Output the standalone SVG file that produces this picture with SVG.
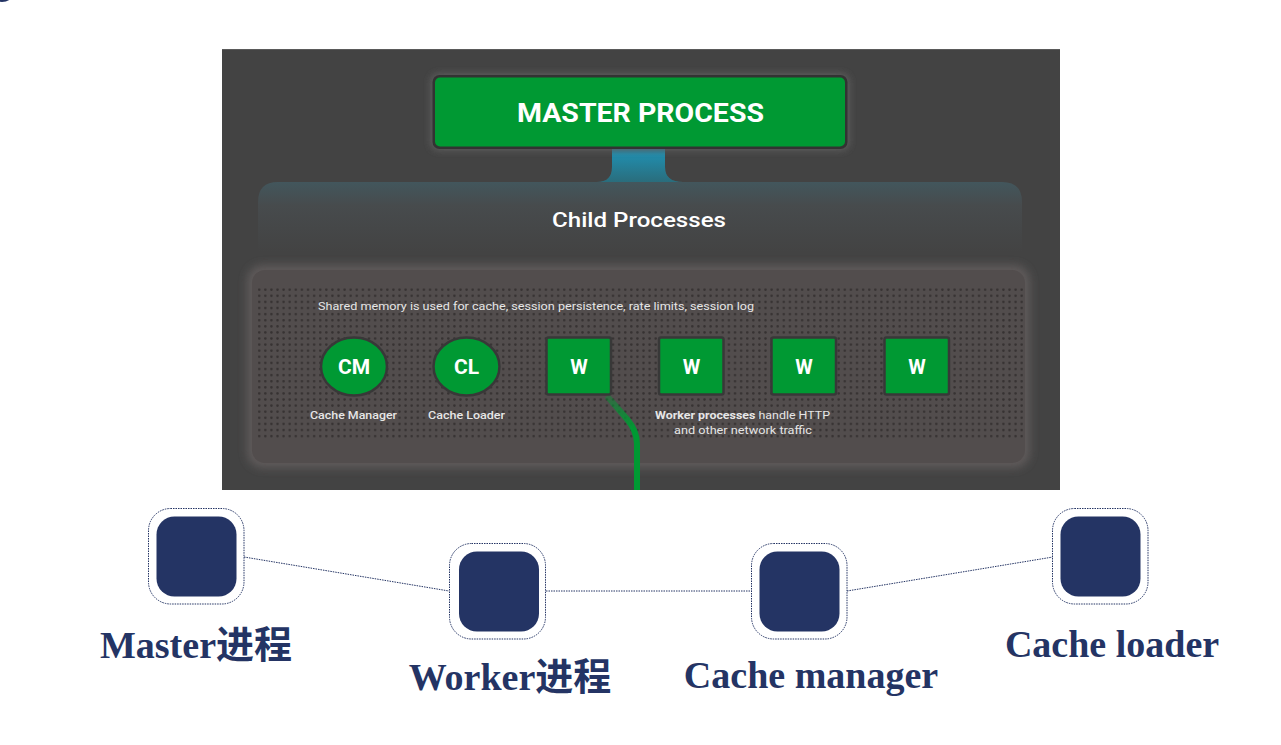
<svg xmlns="http://www.w3.org/2000/svg" width="1281" height="745" viewBox="0 0 1281 745">
<style>
.rb{font-family:Roboto,"Liberation Sans",sans-serif;fill:#fff}
.lbl{font-family:"Liberation Serif","Noto Sans CJK SC",serif;font-weight:bold;font-size:38px;fill:#243464}
.small{font-family:Roboto,"Liberation Sans",sans-serif;font-size:11.5px;fill:#e6e6e6}
.wbox{fill:#009933;stroke:#383838;stroke-width:2.5}
.outer{fill:#fff;stroke:#243464;stroke-width:1;stroke-dasharray:1.5 1}
.inner{fill:#243464}
.conn{stroke:#243464;stroke-width:1;stroke-dasharray:1.5 1;fill:none}
</style>
<defs>
<linearGradient id="band" x1="0" y1="0" x2="0" y2="1">
<stop offset="0" stop-color="#3c6672"/>
<stop offset="0.55" stop-color="#474b4d"/>
<stop offset="1" stop-color="#434343"/>
</linearGradient>
<linearGradient id="stem" x1="0" y1="0" x2="0" y2="1">
<stop offset="0" stop-color="#1f93b6"/>
<stop offset="1" stop-color="#2a6d7c"/>
</linearGradient>
<linearGradient id="wline" x1="0" y1="0" x2="0" y2="1">
<stop offset="0" stop-color="#009933" stop-opacity="0.35"/>
<stop offset="0.35" stop-color="#009933" stop-opacity="1"/>
<stop offset="1" stop-color="#009933"/>
</linearGradient>
<pattern id="dots" width="6.1" height="6.1" patternUnits="userSpaceOnUse">
<circle cx="3" cy="3" r="1.25" fill="#363232"/>
</pattern>
<filter id="blur" x="-10%" y="-10%" width="120%" height="120%"><feGaussianBlur stdDeviation="4"/></filter>
<filter id="blur2" x="-10%" y="-30%" width="120%" height="160%"><feGaussianBlur stdDeviation="3"/></filter>
</defs>
<rect width="1281" height="745" fill="#fff"/>
<ellipse cx="2" cy="-8" rx="12" ry="10" fill="#243464"/>

<g id="screenshot">
<rect x="222" y="49" width="838" height="441" fill="#434343"/>
<rect x="222" y="49" width="838" height="1" fill="#5a5a5a"/>
</g>

<g id="child-band">
<path d="M258 202 Q258 182 278 182 L597 182 Q612 182 612 167 L612 149 L665 149 L665 167 Q665 182 683 182 L1002 182 Q1022 182 1022 202 L1022 252 L258 252 Z" fill="url(#band)"/>
<path d="M612 149 L612 167 Q612 182 597 182 L683 182 Q665 182 665 167 L665 149 Z" fill="url(#stem)"/>
<text class="rb" x="552" y="227" font-size="21" font-weight="500" textLength="174" lengthAdjust="spacingAndGlyphs">Child Processes</text>
</g>

<g id="master">
<rect x="430" y="73" width="420" height="78" rx="9" fill="#5a5a5a" filter="url(#blur2)"/>
<rect x="432.5" y="75" width="415" height="74" rx="7" fill="#333"/>
<rect x="435" y="77.5" width="410" height="69" rx="5" fill="#009933"/>
<text class="rb" x="517" y="122" font-size="26" font-weight="bold" textLength="247" lengthAdjust="spacingAndGlyphs">MASTER PROCESS</text>
</g>

<g id="shared-memory">
<rect x="247" y="265" width="783" height="203" rx="16" fill="#5e5a5a" filter="url(#blur)"/>
<rect x="252" y="270" width="773" height="193" rx="13" fill="#524d4d"/>
<rect x="257" y="286" width="766" height="154" fill="url(#dots)"/>
<text class="small" x="318" y="310" textLength="436" lengthAdjust="spacingAndGlyphs">Shared memory is used for cache, session persistence, rate limits, session log</text>
</g>

<g id="worker-line">
<path d="M607 396 L627 419 Q637 431 637 444 L637 490" stroke="url(#wline)" stroke-width="6" fill="none"/>
</g>

<g id="cm">
<ellipse cx="354" cy="366.5" rx="33" ry="29" fill="#009933" stroke="#383838" stroke-width="2.5"/>
<text class="rb" x="354" y="374" font-size="21" font-weight="bold" text-anchor="middle">CM</text>
<text class="small" x="310" y="419" font-weight="500" textLength="87" lengthAdjust="spacingAndGlyphs">Cache Manager</text>
</g>
<g id="cl">
<ellipse cx="466.5" cy="366.5" rx="33" ry="29" fill="#009933" stroke="#383838" stroke-width="2.5"/>
<text class="rb" x="466.5" y="374" font-size="21" font-weight="bold" text-anchor="middle">CL</text>
<text class="small" x="428" y="419" font-weight="500" textLength="77" lengthAdjust="spacingAndGlyphs">Cache Loader</text>
</g>
<g id="w1">
<rect class="wbox" x="546.5" y="337.5" width="64.5" height="57" rx="2"/>
<text class="rb" x="579" y="373.5" font-size="20" font-weight="bold" text-anchor="middle">W</text>
</g>
<g id="w2">
<rect class="wbox" x="659" y="337.5" width="64.5" height="57" rx="2"/>
<text class="rb" x="691.5" y="373.5" font-size="20" font-weight="bold" text-anchor="middle">W</text>
</g>
<g id="w3">
<rect class="wbox" x="771.5" y="337.5" width="64.5" height="57" rx="2"/>
<text class="rb" x="804" y="373.5" font-size="20" font-weight="bold" text-anchor="middle">W</text>
</g>
<g id="w4">
<rect class="wbox" x="884.5" y="337.5" width="64.5" height="57" rx="2"/>
<text class="rb" x="917" y="373.5" font-size="20" font-weight="bold" text-anchor="middle">W</text>
</g>
<g id="worker-note">
<text class="small" x="655" y="419" textLength="175" lengthAdjust="spacingAndGlyphs"><tspan font-weight="bold">Worker processes</tspan> handle HTTP</text>
<text class="small" x="674" y="434" textLength="138" lengthAdjust="spacingAndGlyphs">and other network traffic</text>
</g>

<g id="connectors">
<line class="conn" x1="244" y1="557" x2="449" y2="591"/>
<line class="conn" x1="546" y1="591" x2="752" y2="591"/>
<line class="conn" x1="847" y1="591" x2="1053" y2="557"/>
</g>

<g id="node-master">
<rect class="outer" x="148.5" y="508.5" width="95.5" height="95.5" rx="22"/>
<rect class="inner" x="156.5" y="516.5" width="80" height="80" rx="18"/>
<text class="lbl" x="196" y="658" text-anchor="middle">Master进程</text>
</g>
<g id="node-worker">
<rect class="outer" x="449.5" y="543.5" width="96" height="95.5" rx="22"/>
<rect class="inner" x="459" y="551.5" width="80" height="80" rx="18"/>
<text class="lbl" x="510" y="690" text-anchor="middle">Worker进程</text>
</g>
<g id="node-cache-manager">
<rect class="outer" x="751.5" y="543.5" width="95.5" height="95.5" rx="22"/>
<rect class="inner" x="759.5" y="551.5" width="80" height="80" rx="18"/>
<text class="lbl" x="811" y="688" text-anchor="middle">Cache manager</text>
</g>
<g id="node-cache-loader">
<rect class="outer" x="1052.5" y="508.5" width="95.5" height="95.5" rx="22"/>
<rect class="inner" x="1060.5" y="516.5" width="80" height="80" rx="18"/>
<text class="lbl" x="1112" y="657" text-anchor="middle">Cache loader</text>
</g>
</svg>
